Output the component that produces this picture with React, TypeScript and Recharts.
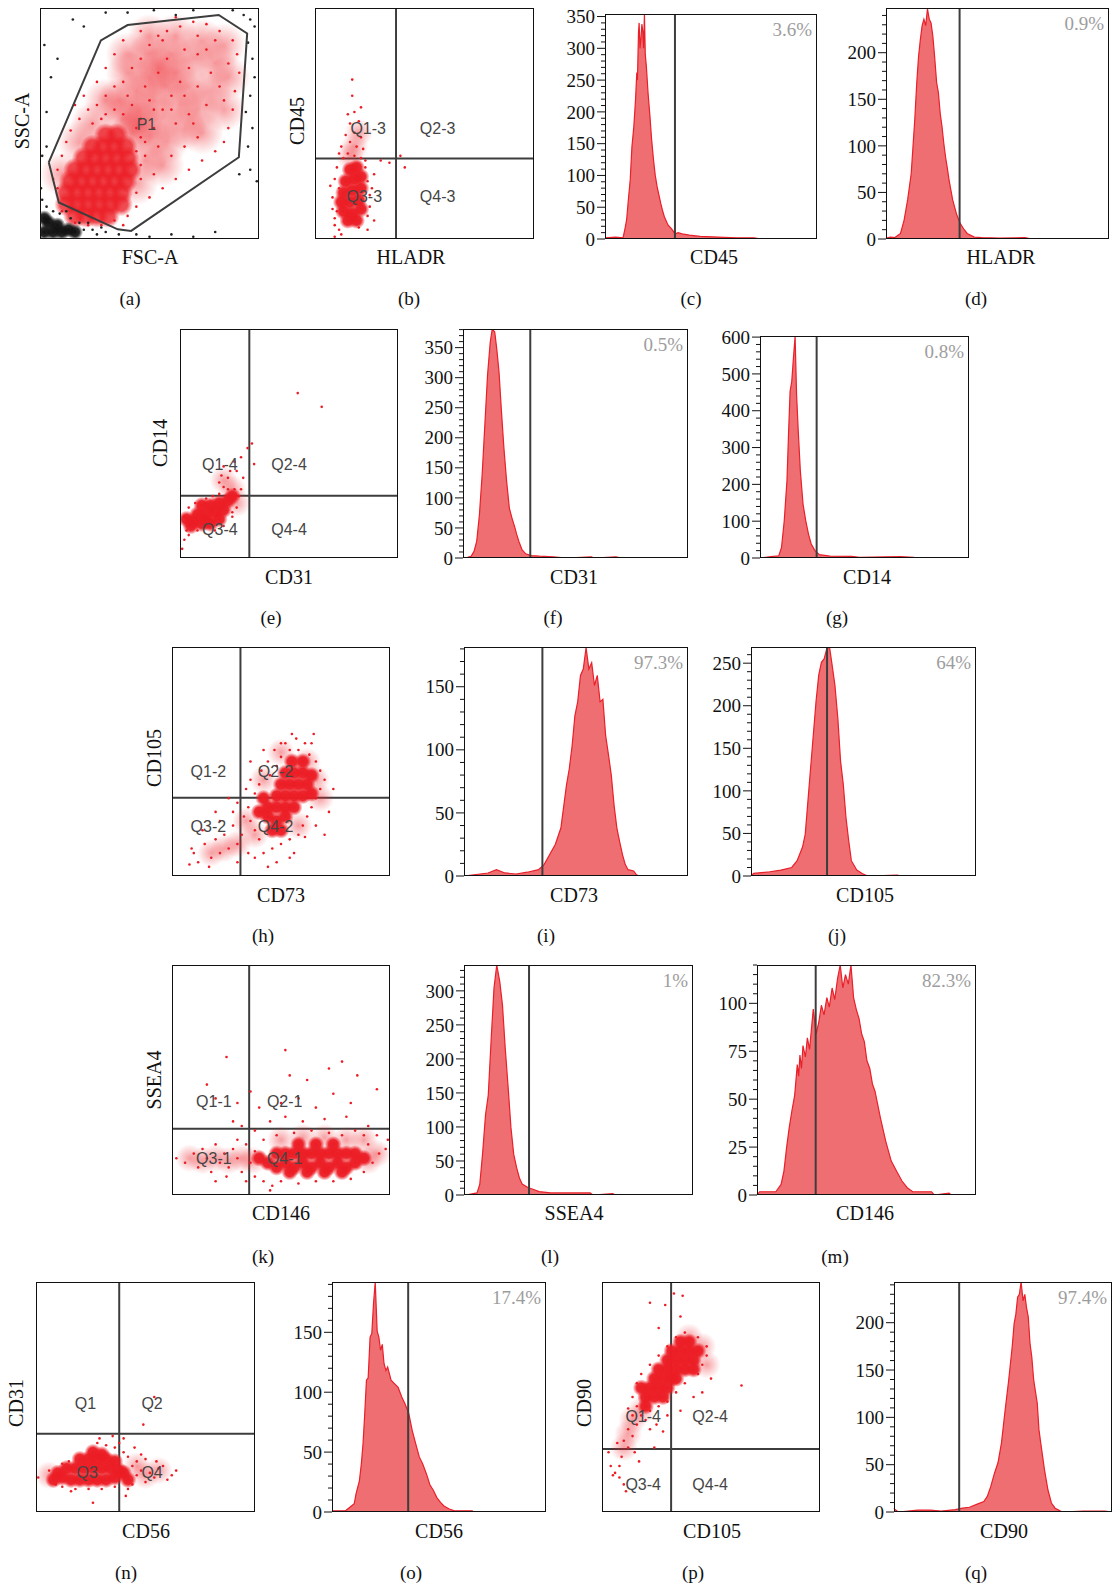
import React from 'react';
import { ComposedChart, ScatterChart, Area, Scatter, XAxis, YAxis, ReferenceLine } from 'recharts';

type Pt = [number, number];
type Tag = [number, number, string];

// ---------- histogram traces: [channel % of range, count] ----------
const cHist: Pt[] = [[0, 2], [5, 3], [8.5, 2], [9.3, 14], [10.2, 30], [11.0, 61], [11.9, 93], [12.7, 145], [13.6, 177], [14.4, 219], [15.0, 262], [15.3, 250], [15.8, 325], [16.1, 340], [16.5, 300], [16.9, 314], [17.4, 338], [17.8, 327], [18.2, 300], [18.6, 354], [19.0, 290], [19.5, 272], [20.3, 230], [21.2, 193], [22.0, 156], [22.9, 124], [23.7, 100], [24.6, 82], [25.4, 70], [26.3, 56], [27.2, 44], [28.0, 35], [29.7, 22], [31.4, 16], [33.1, 8], [34.5, 10], [36.4, 8], [39.8, 6], [44.9, 4], [53.4, 3], [61.9, 2], [70.3, 2], [73.7, 0], [100, 0]];
const dHist: Pt[] = [[0, 1], [2, 2], [4.0, 1.5], [6.5, 6], [8.1, 20], [9.7, 42], [11.3, 70], [12.1, 99], [12.9, 128], [13.8, 168], [14.6, 196], [15.4, 214], [16.2, 229], [17.0, 236], [17.8, 229], [18.6, 247], [19.4, 236], [20.2, 232], [21.0, 218], [21.8, 196], [22.7, 168], [23.5, 157], [24.3, 135], [25.1, 121], [25.9, 103], [26.7, 88], [27.5, 76], [28.3, 63], [29.9, 42], [31.6, 27], [33.2, 17], [34.8, 11], [36.4, 6], [39.6, 2], [42.9, 1.5], [51.0, 1], [62.3, 1.5], [65.5, 0], [100, 0]];
const fHist: Pt[] = [[0, 0], [2, 1], [3.6, 3], [4.9, 11], [6.1, 28], [7.3, 72], [8.5, 138], [9.7, 221], [10.9, 304], [12.1, 359], [13.0, 381], [14.1, 376], [15.0, 348], [16.0, 310], [17.0, 249], [18.2, 182], [19.4, 127], [20.6, 83], [21.8, 66], [23.1, 50], [23.8, 40], [24.8, 28], [26.2, 14], [27.9, 7], [30.3, 4], [34.0, 3], [40.0, 2], [46.1, 0], [57.0, 2], [58.3, 0], [68.0, 2], [70.4, 0], [100, 0]];
const gHist: Pt[] = [[0, 0], [5.2, 3.6], [9.0, 6], [10.3, 29], [11.6, 101], [12.9, 210], [13.7, 345], [14.4, 453], [15.2, 480], [16.0, 544], [16.8, 602], [17.5, 444], [18.3, 345], [19.3, 237], [20.6, 146], [21.9, 101], [23.2, 65], [24.5, 38], [26.3, 20], [28.4, 9], [33.5, 5], [43.8, 4.5], [47.7, 2], [67.0, 4], [73.5, 2], [74.7, 0], [100, 0]];
const iHist: Pt[] = [[0, 0], [4.5, 1], [10.75, 2.4], [14.5, 5], [18.25, 2.4], [23.25, 1.6], [28.25, 3], [33.25, 5], [35.75, 9], [38.25, 17], [40.75, 25], [43.25, 38], [45.75, 72], [47, 85], [48.25, 103], [49.5, 127], [50.75, 138], [52, 159], [53.25, 164], [54.5, 181], [55.75, 164], [57, 169], [58.25, 151], [59.5, 159], [60.75, 138], [62, 140], [63.25, 111], [64.5, 96], [65.75, 80], [67, 56], [68.25, 38], [69.5, 27], [70.75, 17], [72, 9], [73.25, 5], [75.75, 4], [77, 1], [78.25, 0], [100, 0]];
const jHist: Pt[] = [[0, 0], [1.2, 3], [8.4, 5], [13.3, 7], [18.1, 10], [20.5, 18], [22.9, 34], [24.1, 49], [25.3, 88], [26.5, 127], [27.7, 166], [28.9, 205], [30.1, 236], [31.3, 251], [32.5, 255], [33.7, 267], [34.9, 269], [36.1, 247], [37.3, 224], [38.6, 185], [39.8, 135], [41.0, 108], [42.2, 69], [43.4, 42], [44.6, 18], [47.0, 7], [49.4, 3], [51.8, 0], [65.1, 1], [66.3, 0], [100, 0]];
const lHist: Pt[] = [[0, 0], [0.7, 0], [5.7, 3], [6.9, 16], [8.1, 60], [9.4, 118], [10.6, 147], [11.9, 231], [13.1, 304], [14.3, 338], [15.6, 314], [16.8, 279], [18.0, 216], [19.3, 157], [20.5, 99], [21.7, 60], [23.0, 40], [24.2, 25], [25.4, 16], [27.9, 11], [30.4, 8], [32.8, 5], [37.8, 3], [55.1, 3], [56.3, 0], [64.9, 2], [66.2, 0], [100, 0]];
const mHist: Pt[] = [[0, 0], [1.2, 1.7], [8.6, 1.7], [11.0, 5.5], [12.3, 12.5], [13.5, 24.6], [14.7, 35], [15.9, 43.7], [17.2, 52], [18.4, 68], [19.0, 62], [19.6, 73], [20.3, 66], [21.0, 78], [22.1, 72], [23.0, 82], [24.0, 76], [25.7, 97], [27.0, 84], [28.2, 90], [29.4, 99], [30.6, 94], [31.9, 103], [33.0, 98], [34.3, 108], [35.5, 102], [36.8, 113], [38.0, 120], [39.2, 108], [40.4, 115], [41.7, 110], [42.9, 120], [44.1, 103], [45.3, 97], [46.6, 92], [47.8, 84], [49.0, 80], [50.2, 70], [51.5, 66], [52.7, 58], [53.9, 54], [56.4, 40], [58.8, 28], [61.3, 17.7], [63.7, 12.5], [66.2, 7.3], [68.6, 3.8], [71.1, 1.7], [79.7, 1.7], [80.9, 0], [87.7, 1], [88.7, 0], [100, 0]];
const oHist: Pt[] = [[0, 1], [6.3, 1], [10.4, 7], [11.2, 15], [12.8, 26], [13.7, 40], [14.5, 57], [15.3, 82], [16.1, 110], [16.9, 112], [17.8, 146], [18.6, 149], [19.4, 174], [20.2, 192], [21.1, 151], [21.9, 146], [22.7, 135], [23.5, 140], [24.3, 124], [25.2, 118], [26.0, 121], [27.6, 110], [29.3, 107], [30.9, 104], [32.6, 96], [34.2, 90], [35.9, 82], [37.5, 68], [39.1, 57], [40.8, 46], [42.4, 40], [44.1, 32], [45.7, 23], [47.4, 18], [49.0, 12], [50.7, 8], [52.3, 5], [54.8, 2.5], [57.2, 1], [65.5, 1], [66.3, 0], [100, 0]];
const qHist: Pt[] = [[0, 4], [0.3, 3], [2.0, 0], [10.9, 2], [16.7, 2], [21.6, 1], [28.1, 2.5], [31.4, 4], [34.6, 5], [37.9, 8], [41.2, 11], [42.8, 16.5], [44.4, 27], [46.1, 41], [47.7, 52], [49.3, 73], [51.0, 108], [52.6, 139], [54.2, 174], [55.1, 199], [55.9, 209], [56.7, 227], [57.5, 230], [58.3, 243], [59.2, 223], [60.0, 230], [60.8, 216], [61.6, 206], [62.4, 178], [63.2, 164], [64.1, 139], [65.7, 115], [66.5, 87], [67.3, 73], [69.0, 45], [70.6, 23.5], [72.2, 9.5], [73.9, 4], [75.5, 2], [77.1, 0], [86.9, 1], [96.7, 1], [100, 0]];

// y tick labels per histogram
const cTicks = [0, 50, 100, 150, 200, 250, 300, 350];
const dTicks = [0, 50, 100, 150, 200];
const fTicks = [0, 50, 100, 150, 200, 250, 300, 350];
const gTicks = [0, 100, 200, 300, 400, 500, 600];
const iTicks = [0, 50, 100, 150];
const jTicks = [0, 50, 100, 150, 200, 250];
const lTicks = [0, 50, 100, 150, 200, 250, 300];
const mTicks = [0, 25, 50, 75, 100];
const oTicks = [0, 50, 100, 150];
const qTicks = [0, 50, 100, 150, 200];

// ---------- dot plots: [x %, y %] ----------
const aGate: Pt[] = [[4.0, 33.2], [27.8, 86], [40, 92.6], [81.6, 97], [94.6, 89], [90.8, 35.4], [41.6, 3.5], [35.5, 4.2], [8.6, 15.8], [4.0, 33.2]];
const aCore: Pt[] = [[16, 10], [21, 10], [26, 10], [31, 10], [12, 15], [17, 15], [22, 15], [27, 15], [32, 15], [37, 15], [12, 20], [17, 20], [22, 20], [27, 20], [32, 20], [37, 20], [14, 25], [19, 25], [24, 25], [29, 25], [34, 25], [39, 25], [16, 30], [21, 30], [26, 30], [31, 30], [36, 30], [41, 30], [20, 35], [25, 35], [30, 35], [35, 35], [40, 35], [24, 40], [29, 40], [34, 40], [39, 40], [30, 45], [35, 45]];
const aHaze: Pt[] = [[45, 55], [52, 60], [58, 66], [62, 72], [50, 70], [44, 64], [56, 52], [64, 58], [68, 66], [70, 78], [60, 80], [50, 80], [40, 72], [36, 60], [42, 46], [50, 44], [58, 42], [66, 48], [72, 56], [78, 64], [80, 76], [74, 86], [62, 88], [50, 88], [40, 80], [84, 84], [30, 60], [24, 50], [48, 34], [44, 24], [18, 42], [10, 28], [56, 32], [74, 46], [84, 56], [86, 70], [46, 50], [38, 52], [54, 74]];
const aDots: Pt[] = [[8, 30], [10, 36], [12, 42], [14, 47], [18, 52], [22, 56], [26, 58], [30, 62], [34, 66], [38, 68], [42, 74], [46, 78], [50, 84], [54, 88], [58, 90], [64, 92], [70, 94], [76, 93], [82, 90], [88, 86], [90, 80], [91, 72], [89, 64], [88, 56], [86, 48], [84, 42], [80, 38], [74, 34], [68, 30], [62, 26], [56, 22], [50, 18], [44, 14], [40, 10], [34, 8], [28, 6], [22, 6], [16, 7], [44, 38], [48, 42], [52, 48], [56, 56], [60, 62], [64, 68], [68, 74], [72, 80], [76, 82], [80, 86], [66, 82], [58, 78], [54, 72], [48, 66], [42, 58], [38, 54], [34, 56], [30, 54], [46, 52], [52, 56], [62, 50], [70, 50], [76, 58], [82, 66], [78, 72], [72, 66], [66, 62], [60, 56], [54, 40], [60, 36], [66, 40], [72, 44], [46, 26], [52, 28], [38, 6], [44, 20], [56, 86], [46, 90], [38, 86], [34, 80], [30, 74], [26, 68], [20, 62], [16, 58], [62, 96], [72, 88], [86, 76], [84, 60], [48, 36], [46, 32], [46, 44], [68, 54], [8, 22], [6, 26], [10, 12], [24, 50], [28, 52], [44, 48], [50, 60], [40, 62]];
const aDebrisCore: Pt[] = [[2, 3], [6, 3], [10, 3], [4, 7], [8, 6], [13, 4], [2, 9], [16, 3]];
const aDebris: Pt[] = [[16, 3], [20, 4], [24, 4], [28, 5], [18, 7], [14, 9], [6, 12], [3, 14], [1, 17], [0.5, 22], [9, 11], [1, 36], [3, 40], [3, 55], [5, 70], [8, 78], [2, 84], [15, 95], [20, 92], [30, 98], [40, 98], [52, 99], [62, 97], [70, 99], [88, 99], [93, 97], [96, 95], [98, 92], [95, 85], [97, 78], [98, 70], [96, 62], [94, 55], [97, 48], [95, 40], [96, 30], [99, 25], [30, 3], [36, 2], [44, 2], [50, 1], [60, 2], [70, 1], [80, 3], [91, 28], [12, 12], [22, 7], [26, 2]];
const aTags: Tag[] = [[48.6, 49.6, 'P1']];

const bCore: Pt[] = [[13, 12], [17, 11], [21, 13], [12, 16], [16, 16], [20, 17], [13, 20], [17, 21], [21, 22], [14, 25], [18, 26], [21, 27], [16, 30], [19, 31], [15, 8], [19, 8]];
const bHaze: Pt[] = [[18, 40], [20, 46], [16, 36]];
const bDots: Pt[] = [[9, 6], [11, 4], [9, 9], [8, 13], [8, 18], [9, 26], [10, 31], [24, 10], [25, 14], [25, 19], [24, 25], [23, 31], [13, 35], [15, 37], [18, 36], [21, 35], [23, 34], [12, 40], [16, 42], [19, 40], [22, 39], [14, 45], [18, 46], [21, 44], [16, 50], [20, 51], [18, 55], [21, 57], [15, 54], [17, 62], [17, 69], [30, 34], [34, 33], [39, 36], [41, 31], [12, 2], [9, 1], [27, 8], [7, 23], [11, 37], [20, 5], [24, 4], [26, 22], [27, 28], [10, 12], [11, 22]];
const bTags: Tag[] = [[24.3, 48, 'Q1-3'], [56, 48, 'Q2-3'], [22.5, 18.4, 'Q3-3'], [56, 18.4, 'Q4-3']];

const eCore: Pt[] = [[6, 16], [10, 15], [14, 15], [18, 17], [8, 19], [12, 19], [16, 20], [20, 21], [10, 23], [14, 23], [18, 24], [22, 25], [24, 27], [5, 14], [12, 16], [3, 17]];
const eHaze: Pt[] = [[24, 30], [20, 34], [26, 24]];
const eDots: Pt[] = [[2, 18], [3, 12], [2, 8], [4, 10], [8, 12], [16, 12], [20, 14], [24, 18], [26, 22], [27, 27], [25, 30], [22, 30], [20, 31], [18, 33], [19, 36], [22, 35], [23, 38], [20, 40], [25, 42], [28, 44], [31, 48], [33, 50], [34, 41], [18, 28], [15, 27], [7, 24], [4, 22], [1, 4], [24, 20], [28, 30], [54, 72], [65, 66], [29, 35], [26, 38], [12, 26]];
const eTags: Tag[] = [[18.3, 41, 'Q1-4'], [50, 41, 'Q2-4'], [18.3, 12.7, 'Q3-4'], [50, 12.7, 'Q4-4']];

const hCore: Pt[] = [[44, 26], [48, 24], [52, 26], [44, 30], [48, 30], [52, 30], [56, 30], [48, 35], [52, 35], [56, 35], [60, 35], [50, 40], [54, 40], [58, 40], [62, 40], [52, 45], [56, 45], [60, 45], [55, 50], [60, 50], [64, 44], [46, 20], [50, 20], [42, 34], [40, 28], [64, 36]];
const hHaze: Pt[] = [[38, 18], [34, 24], [30, 14], [24, 12], [18, 10], [66, 42], [62, 50], [50, 54], [42, 42], [58, 22], [68, 34]];
const hDots: Pt[] = [[38, 20], [40, 16], [36, 24], [35, 30], [38, 36], [40, 40], [45, 44], [48, 48], [50, 52], [54, 55], [58, 55], [63, 53], [66, 50], [68, 46], [70, 42], [68, 38], [66, 34], [64, 30], [62, 26], [60, 22], [58, 18], [54, 16], [50, 14], [46, 12], [42, 10], [38, 8], [32, 18], [30, 14], [28, 22], [26, 12], [24, 18], [22, 10], [20, 16], [18, 8], [15, 14], [14, 20], [12, 6], [10, 10], [8, 5], [9, 12], [28, 28], [33, 26], [22, 24], [47, 55], [52, 58], [57, 60], [61, 58], [74, 38], [72, 28], [66, 22], [56, 10], [48, 6], [44, 4], [54, 8], [61, 17], [70, 18], [35, 10], [30, 6], [17, 4], [20, 28], [26, 34], [30, 32], [34, 38], [36, 42], [41, 46], [44, 50], [64, 58], [55, 62], [50, 58], [42, 55], [36, 50], [65, 62]];
const hTags: Tag[] = [[16.7, 45.7, 'Q1-2'], [47.5, 45.7, 'Q2-2'], [16.7, 21.6, 'Q3-2'], [47.5, 21.6, 'Q4-2']];

const kCore: Pt[] = [[44, 14], [48, 12], [52, 14], [56, 12], [60, 14], [64, 12], [68, 14], [72, 12], [76, 14], [80, 12], [84, 14], [48, 18], [52, 18], [56, 18], [60, 18], [64, 18], [68, 18], [72, 18], [76, 18], [80, 18], [84, 18], [58, 22], [66, 22], [74, 22], [62, 10], [70, 10], [54, 10], [78, 10], [40, 16], [88, 16]];
const kHaze: Pt[] = [[8, 16], [14, 15], [20, 16], [26, 15], [32, 16], [37, 15], [90, 15], [94, 18], [50, 24], [60, 25], [70, 25], [80, 24], [88, 24]];
const kDots: Pt[] = [[2, 16], [6, 14], [10, 18], [12, 12], [14, 20], [16, 16], [18, 10], [20, 22], [22, 14], [24, 18], [26, 12], [28, 20], [30, 16], [32, 10], [34, 22], [36, 14], [38, 19], [30, 24], [25, 8], [20, 6], [38, 8], [34, 6], [42, 6], [46, 4], [50, 6], [58, 5], [66, 6], [74, 6], [82, 7], [88, 10], [92, 14], [95, 18], [98, 20], [90, 22], [94, 26], [88, 26], [84, 28], [78, 26], [72, 27], [64, 28], [56, 27], [48, 26], [42, 24], [38, 28], [32, 30], [28, 32], [45, 32], [52, 34], [60, 32], [70, 33], [80, 34], [90, 30], [50, 40], [58, 42], [66, 38], [74, 44], [82, 40], [94, 46], [62, 50], [72, 55], [85, 52], [40, 38], [36, 45], [30, 40], [25, 60], [52, 63], [54, 52], [78, 58], [20, 42], [16, 48], [99, 24], [45, 2]];
const kTags: Tag[] = [[19.2, 40.9, 'Q1-1'], [51.7, 40.9, 'Q2-1'], [19.2, 15.7, 'Q3-1'], [51.7, 15.7, 'Q4-1']];

const nCore: Pt[] = [[12, 15], [16, 14], [20, 14], [24, 14], [28, 14], [32, 14], [36, 15], [14, 19], [18, 19], [22, 19], [26, 19], [30, 19], [34, 19], [38, 18], [20, 23], [24, 23], [28, 23], [32, 23], [36, 22], [40, 17], [42, 14], [10, 17], [26, 26], [30, 25], [8, 14]];
const nHaze: Pt[] = [[50, 16], [46, 20], [56, 18], [6, 16]];
const nDots: Pt[] = [[8, 16], [6, 18], [9, 12], [12, 11], [18, 10], [24, 10], [30, 10], [36, 11], [42, 10], [44, 12], [46, 16], [48, 18], [50, 13], [52, 17], [54, 15], [56, 19], [58, 20], [62, 16], [64, 18], [44, 20], [46, 22], [48, 25], [42, 24], [40, 26], [36, 28], [32, 29], [28, 30], [38, 30], [35, 33], [40, 32], [45, 28], [50, 23], [15, 22], [12, 21], [26, 4], [16, 9], [41, 7], [55, 22], [60, 14], [1, 15], [29, 32], [54, 50], [49, 38]];
const nTags: Tag[] = [[22.6, 47.4, 'Q1'], [53, 47.4, 'Q2'], [23.4, 17.4, 'Q3'], [53, 17.4, 'Q4']];

const pCore: Pt[] = [[20, 50], [24, 50], [22, 54], [26, 54], [30, 54], [24, 58], [28, 58], [32, 58], [26, 62], [30, 62], [34, 62], [38, 62], [30, 66], [34, 66], [38, 66], [42, 66], [36, 70], [40, 70], [44, 70], [28, 50], [20, 46], [34, 58], [42, 62], [18, 54], [32, 70], [40, 74], [36, 74]];
const pHaze: Pt[] = [[14, 40], [12, 34], [10, 28], [18, 44], [46, 72], [40, 76], [48, 64]];
const pDots: Pt[] = [[16, 46], [14, 42], [18, 42], [22, 44], [26, 46], [30, 48], [34, 52], [38, 56], [44, 60], [46, 64], [48, 68], [48, 72], [44, 76], [38, 78], [34, 76], [30, 72], [26, 68], [22, 64], [18, 60], [16, 56], [14, 50], [12, 45], [20, 40], [16, 38], [12, 36], [14, 33], [10, 31], [12, 28], [15, 26], [9, 24], [8, 20], [6, 17], [8, 15], [5, 16], [10, 12], [11, 9], [4, 20], [25, 38], [30, 42], [28, 35], [36, 44], [42, 50], [22, 36], [7, 30], [3, 26], [22, 91], [33, 95], [37, 94], [36, 85], [64, 55], [29, 90], [17, 22], [24, 28], [50, 58], [46, 52], [26, 80]];
const pTags: Tag[] = [[18.9, 41.7, 'Q1-4'], [49.6, 41.7, 'Q2-4'], [18.9, 12, 'Q3-4'], [49.6, 12, 'Q4-4']];

// ---------- styling ----------
const SERIF = '"Liberation Serif", "DejaVu Serif", serif';
const SANS = '"Liberation Sans", Arial, sans-serif';
const RED = '#ec1c24';
const HIST_FILL = '#ef6e71';
const HIST_LINE = '#e8202a';
const GATE = '#3d3d3d';

type Box = { x: number; y: number; w: number; h: number };
type Layer = { pts: Pt[]; r: number; color: string; opacity?: number };

const rows = (pts: Pt[]) => pts.map(([x, y]) => ({ x, y }));

function Txt({ x, y, children, size = 20, color = '#111', rotate = false, family = SERIF }: any) {
  return (
    <div style={{ position: 'absolute', left: x, top: y, transform: `translate(-50%, -50%)${rotate ? ' rotate(-90deg)' : ''}`, fontFamily: family, fontSize: size, color, whiteSpace: 'nowrap', lineHeight: 1 }}>
      {children}
    </div>
  );
}

const Letter = (props: any) => <Txt size={19} {...props} />;

function Frame({ box }: { box: Box }) {
  return <div style={{ position: 'absolute', left: box.x, top: box.y, width: box.w, height: box.h, border: '1.5px solid #111', boxSizing: 'border-box', pointerEvents: 'none' }} />;
}

const HistTick = (props: any) => {
  const { x, y, payload, majors } = props;
  const major = majors.includes(payload.value);
  return (
    <g>
      <line x1={x - (major ? 8 : 4)} x2={x} y1={y} y2={y} stroke="#111" strokeWidth={1} />
      {major && (
        <text x={x - 10} y={y} dy="0.35em" textAnchor="end" fontFamily={SERIF} fontSize={19} fill="#111">
          {payload.value}
        </text>
      )}
    </g>
  );
};

function Histogram({ box, data, yMax, ticks, gate, pct }: { box: Box; data: Pt[]; yMax: number; ticks: number[]; gate: number; pct: string }) {
  const padL = 52;
  const pad = 12;
  const step = (ticks[1] - ticks[0]) / 5;
  const allTicks: number[] = [];
  for (let v = 0; v <= yMax + 1e-6; v += step) allTicks.push(Math.round(v * 100) / 100);
  return (
    <>
      <div style={{ position: 'absolute', left: box.x - padL, top: box.y - pad }}>
        <ComposedChart width={box.w + padL} height={box.h + 2 * pad} data={rows(data)} margin={{ top: pad, right: 0, bottom: pad, left: 0 }}>
          <XAxis dataKey="x" type="number" domain={[0, 100]} hide />
          <YAxis type="number" domain={[0, yMax]} ticks={allTicks} interval={0} width={padL} axisLine={false} tickLine={false} tickSize={0} tickMargin={0} allowDataOverflow tick={<HistTick majors={ticks} />} />
          <Area dataKey="y" type="linear" stroke={HIST_LINE} strokeWidth={1.2} fill={HIST_FILL} fillOpacity={1} isAnimationActive={false} dot={false} activeDot={false} />
          <ReferenceLine x={gate} stroke={GATE} strokeWidth={2} />
        </ComposedChart>
      </div>
      <Frame box={box} />
      <div style={{ position: 'absolute', left: box.x + box.w - 5, top: box.y + 15, transform: 'translate(-100%, -50%)', fontFamily: SERIF, fontSize: 19, color: '#9d9d9d', lineHeight: 1 }}>{pct}</div>
    </>
  );
}

function DotPlot({ box, layers, qx, qy, tags, gate }: { box: Box; layers: Layer[]; qx?: number; qy?: number; tags: Tag[]; gate?: Pt[] }) {
  const tagRows = tags.map(([x, y, t]) => ({ x, y, t }));
  return (
    <>
      <div style={{ position: 'absolute', left: box.x, top: box.y }}>
        <ScatterChart width={box.w} height={box.h} margin={{ top: 0, right: 0, bottom: 0, left: 0 }}>
          <XAxis type="number" dataKey="x" domain={[0, 100]} hide allowDataOverflow />
          <YAxis type="number" dataKey="y" domain={[0, 100]} hide allowDataOverflow />
          {layers.map((l, i) => (
            <Scatter key={i} data={rows(l.pts)} isAnimationActive={false}
              shape={(p: any) => <circle cx={p.cx} cy={p.cy} r={l.r} fill={l.color} fillOpacity={l.opacity ?? 1} />} />
          ))}
          {gate && <Scatter data={rows(gate)} line={{ stroke: GATE, strokeWidth: 2 }} lineType="joint" isAnimationActive={false} shape={() => <g />} />}
          {qx !== undefined && <ReferenceLine x={qx} stroke={GATE} strokeWidth={2} />}
          {qy !== undefined && <ReferenceLine y={qy} stroke={GATE} strokeWidth={2} />}
          <Scatter data={tagRows} isAnimationActive={false}
            shape={(p: any) => (
              <text x={p.cx} y={p.cy} dy="0.35em" textAnchor="middle" fontFamily={SANS} fontSize={16} fill="#454545">{p.payload.t}</text>
            )} />
        </ScatterChart>
      </div>
      <Frame box={box} />
    </>
  );
}

// dense clusters: soft haze, speckle of single events, then solid-looking core
const cloud = (core: Pt[], dots: Pt[], haze: Pt[]): Layer[] => [
  { pts: haze, r: 14, color: 'url(#haze)' },
  { pts: dots, r: 1.3, color: RED },
  { pts: core, r: 8.5, color: 'url(#blob)' },
];

export default function App() {
  const B: Record<string, Box> = {
    a: { x: 40, y: 8, w: 219, h: 231 },
    b: { x: 315, y: 8, w: 219, h: 231 },
    c: { x: 605, y: 14, w: 212, h: 225 },
    d: { x: 886, y: 8, w: 223, h: 231 },
    e: { x: 180, y: 329, w: 218, h: 229 },
    f: { x: 463, y: 329, w: 225, h: 229 },
    g: { x: 760, y: 336, w: 209, h: 222 },
    h: { x: 172, y: 647, w: 218, h: 229 },
    i: { x: 464, y: 647, w: 224, h: 229 },
    j: { x: 751, y: 647, w: 225, h: 229 },
    k: { x: 172, y: 965, w: 218, h: 230 },
    l: { x: 464, y: 965, w: 229, h: 230 },
    m: { x: 757, y: 965, w: 219, h: 230 },
    n: { x: 36, y: 1282, w: 219, h: 230 },
    o: { x: 332, y: 1282, w: 214, h: 230 },
    p: { x: 602, y: 1282, w: 218, h: 230 },
    q: { x: 894, y: 1282, w: 218, h: 230 },
  };
  return (
    <div style={{ position: 'absolute', left: 0, top: 0, width: 1114, height: 1585, background: '#fff', overflow: 'hidden' }}>
      <svg width={0} height={0} style={{ position: 'absolute' }}>
        <defs>
          <radialGradient id="blob">
            <stop offset="0%" stopColor={RED} stopOpacity={1} />
            <stop offset="55%" stopColor={RED} stopOpacity={0.95} />
            <stop offset="100%" stopColor={RED} stopOpacity={0} />
          </radialGradient>
          <radialGradient id="haze">
            <stop offset="0%" stopColor={RED} stopOpacity={0.42} />
            <stop offset="100%" stopColor={RED} stopOpacity={0} />
          </radialGradient>
          <radialGradient id="soot">
            <stop offset="0%" stopColor="#111" stopOpacity={1} />
            <stop offset="55%" stopColor="#111" stopOpacity={0.9} />
            <stop offset="100%" stopColor="#111" stopOpacity={0} />
          </radialGradient>
        </defs>
      </svg>

      {/* row 1 */}
      <DotPlot box={B.a} gate={aGate} tags={aTags} layers={[
        { pts: aHaze, r: 22, color: 'url(#haze)' },
        { pts: aDots, r: 1.3, color: RED },
        { pts: aCore, r: 12, color: 'url(#blob)', opacity: 0.82 },
        { pts: aDebris, r: 1.3, color: '#222' },
        { pts: aDebrisCore, r: 8, color: 'url(#soot)' },
      ]} />
      <DotPlot box={B.b} qx={37} qy={34.8} tags={bTags} layers={cloud(bCore, bDots, bHaze)} />
      <Histogram box={B.c} data={cHist} yMax={354} ticks={cTicks} gate={33} pct="3.6%" />
      <Histogram box={B.d} data={dHist} yMax={248} ticks={dTicks} gate={33} pct="0.9%" />
      <Txt x={22} y={121} rotate>SSC-A</Txt>
      <Txt x={150} y={257}>FSC-A</Txt>
      <Txt x={297} y={121} rotate>CD45</Txt>
      <Txt x={411} y={257}>HLADR</Txt>
      <Txt x={714} y={257}>CD45</Txt>
      <Txt x={1001} y={257}>HLADR</Txt>
      <Letter x={130} y={298}>(a)</Letter>
      <Letter x={409} y={298}>(b)</Letter>
      <Letter x={691} y={298}>(c)</Letter>
      <Letter x={976} y={298}>(d)</Letter>

      {/* row 2 */}
      <DotPlot box={B.e} qx={31.8} qy={27.2} tags={eTags} layers={cloud(eCore, eDots, eHaze)} />
      <Histogram box={B.f} data={fHist} yMax={381} ticks={fTicks} gate={29.9} pct="0.5%" />
      <Histogram box={B.g} data={gHist} yMax={603} ticks={gTicks} gate={27.1} pct="0.8%" />
      <Txt x={160} y={443} rotate>CD14</Txt>
      <Txt x={289} y={577}>CD31</Txt>
      <Txt x={574} y={577}>CD31</Txt>
      <Txt x={867} y={577}>CD14</Txt>
      <Letter x={271} y={617}>(e)</Letter>
      <Letter x={553} y={617}>(f)</Letter>
      <Letter x={837} y={617}>(g)</Letter>

      {/* row 3 */}
      <DotPlot box={B.h} qx={31.4} qy={34.2} tags={hTags} layers={cloud(hCore, hDots, hHaze)} />
      <Histogram box={B.i} data={iHist} yMax={181.5} ticks={iTicks} gate={35} pct="97.3%" />
      <Histogram box={B.j} data={jHist} yMax={269} ticks={jTicks} gate={33.8} pct="64%" />
      <Txt x={154} y={758} rotate>CD105</Txt>
      <Txt x={281} y={895}>CD73</Txt>
      <Txt x={574} y={895}>CD73</Txt>
      <Txt x={865} y={895}>CD105</Txt>
      <Letter x={263} y={935}>(h)</Letter>
      <Letter x={546} y={935}>(i)</Letter>
      <Letter x={837} y={935}>(j)</Letter>

      {/* row 4 */}
      <DotPlot box={B.k} qx={35.4} qy={28.8} tags={kTags} layers={cloud(kCore, kDots, kHaze)} />
      <Histogram box={B.l} data={lHist} yMax={338} ticks={lTicks} gate={28.4} pct="1%" />
      <Histogram box={B.m} data={mHist} yMax={120} ticks={mTicks} gate={26.8} pct="82.3%" />
      <Txt x={154} y={1080} rotate>SSEA4</Txt>
      <Txt x={281} y={1213}>CD146</Txt>
      <Txt x={574} y={1213}>SSEA4</Txt>
      <Txt x={865} y={1213}>CD146</Txt>
      <Letter x={263} y={1256}>(k)</Letter>
      <Letter x={550} y={1256}>(l)</Letter>
      <Letter x={835} y={1256}>(m)</Letter>

      {/* row 5 */}
      <DotPlot box={B.n} qx={38} qy={34} tags={nTags} layers={cloud(nCore, nDots, nHaze)} />
      <Histogram box={B.o} data={oHist} yMax={192} ticks={oTicks} gate={35.6} pct="17.4%" />
      <DotPlot box={B.p} qx={31.7} qy={27.4} tags={pTags} layers={cloud(pCore, pDots, pHaze)} />
      <Histogram box={B.q} data={qHist} yMax={243} ticks={qTicks} gate={29.9} pct="97.4%" />
      <Txt x={16} y={1403} rotate>CD31</Txt>
      <Txt x={146} y={1531}>CD56</Txt>
      <Txt x={439} y={1531}>CD56</Txt>
      <Txt x={584} y={1403} rotate>CD90</Txt>
      <Txt x={712} y={1531}>CD105</Txt>
      <Txt x={1004} y={1531}>CD90</Txt>
      <Letter x={126} y={1572}>(n)</Letter>
      <Letter x={411} y={1572}>(o)</Letter>
      <Letter x={693} y={1572}>(p)</Letter>
      <Letter x={976} y={1572}>(q)</Letter>
    </div>
  );
}
